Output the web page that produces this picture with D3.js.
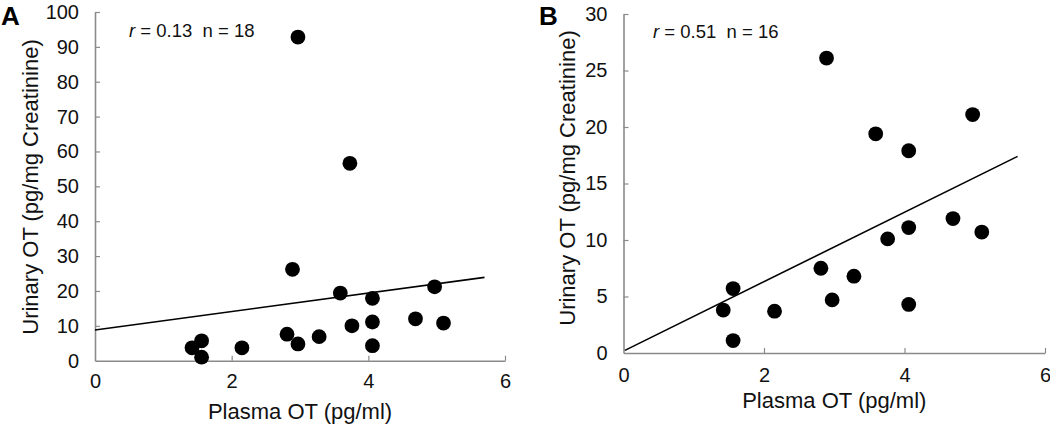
<!DOCTYPE html>
<html>
<head>
<meta charset="utf-8">
<script src="https://cdn.jsdelivr.net/npm/d3@7"></script>
<style>
  html, body { margin: 0; padding: 0; background: #fff; }
  svg { display: block; font-family: "Liberation Sans", Arial, sans-serif; }
</style>
</head>
<body>
<svg id="chart" width="1050" height="425"></svg>
<script>
// ---- Data ----
const plasmaA  = [1.42, 1.56, 1.56, 2.15, 2.81, 2.89, 2.97, 2.97, 3.28, 3.59, 3.73, 3.76, 4.06, 4.06, 4.06, 4.69, 4.97, 5.10];
const urinaryA = [3.7, 5.7, 1.0, 3.7, 7.6, 26.2, 4.8, 92.8, 6.9, 19.4, 56.6, 10.0, 17.9, 11.1, 4.3, 12.0, 21.2, 10.8];
const plasmaB  = [1.42, 1.56, 1.56, 2.15, 2.81, 2.89, 2.97, 3.28, 3.59, 3.76, 4.06, 4.06, 4.06, 4.69, 4.97, 5.10];
const urinaryB = [3.8, 5.7, 1.1, 3.7, 7.5, 26.1, 4.7, 6.8, 19.4, 10.1, 17.9, 11.1, 4.3, 11.9, 21.1, 10.7];
const fitAx = [0, 5.7],  fitAy = [8.8, 23.9];
const fitBx = [0.02, 5.61], fitBy = [0.23, 17.4];
const xTicks = [0, 2, 4, 6];
const yTicksA = [0, 10, 20, 30, 40, 50, 60, 70, 80, 90, 100];
const yTicksB = [0, 5, 10, 15, 20, 25, 30];
const statsA = { r: "0.13", n: "18" };
const statsB = { r: "0.51", n: "16" };
const xTitle = "Plasma OT (pg/ml)";
const yTitle = "Urinary OT (pg/mg Creatinine)";

const svg = d3.select("#chart");
const AXIS = "#8a8a8a";

function panel(cfg) {
  const x = d3.scaleLinear().domain([0, 6]).range([cfg.x0, cfg.x1]);
  const y = d3.scaleLinear().domain([0, cfg.ymax]).range([cfg.y0, cfg.y1]);
  const g = svg.append("g");

  // x axis
  const xa = g.append("g").attr("transform", `translate(0,${cfg.y0})`)
    .call(d3.axisBottom(x).tickValues(xTicks).tickSizeInner(-5).tickSizeOuter(0).tickPadding(cfg.xPad).tickFormat(d3.format("d")));
  // y axis
  const ya = g.append("g").attr("transform", `translate(${cfg.x0},0)`)
    .call(d3.axisLeft(y).tickValues(cfg.yTicks).tickSizeInner(-5).tickSizeOuter(0).tickPadding(16).tickFormat(d3.format("d")));
  [xa, ya].forEach(a => {
    a.select(".domain").attr("stroke", AXIS).attr("stroke-width", 1.6);
    a.selectAll(".tick line").attr("stroke", AXIS).attr("stroke-width", 1.2);
    a.selectAll(".tick text").attr("fill", "#111").style("font-size", "20px");
  });
  xa.selectAll(".tick").filter(d => d === 0).select("line").remove();
  ya.selectAll(".tick").filter(d => d === 0).select("line").remove();

  // fit line
  g.append("line")
    .attr("x1", x(cfg.fitx[0])).attr("y1", y(cfg.fity[0]))
    .attr("x2", x(cfg.fitx[1])).attr("y2", y(cfg.fity[1]))
    .attr("stroke", "#000").attr("stroke-width", 1.6);

  // points
  g.selectAll("circle.pt").data(cfg.px.map((v, i) => [v, cfg.py[i]]))
    .enter().append("circle").attr("class", "pt")
    .attr("cx", d => x(d[0])).attr("cy", d => y(d[1])).attr("r", 7.4).attr("fill", "#000");

  // annotation
  const t = g.append("text").attr("x", cfg.annX).attr("y", cfg.annY).style("font-size", "18.5px").attr("fill", "#111");
  t.append("tspan").style("font-style", "italic").text("r");
  t.append("tspan").text(` = ${cfg.stats.r}\u00a0\u00a0n = ${cfg.stats.n}`);

  // axis titles
  g.append("text").attr("x", (cfg.x0 + cfg.x1) / 2).attr("y", cfg.xTitleY)
    .attr("text-anchor", "middle").style("font-size", "22px").attr("fill", "#111").text(xTitle);
  g.append("text").attr("transform", `translate(${cfg.yTitleX},${cfg.yTitleC}) rotate(-90)`)
    .attr("text-anchor", "middle").style("font-size", "22px").attr("fill", "#111").text(yTitle);

  // panel letter
  g.append("text").attr("x", cfg.letterX).attr("y", 25).style("font-size", "26px")
    .style("font-weight", "bold").attr("fill", "#000").text(cfg.letter);
}

panel({ x0: 95, x1: 505, y0: 360.7, y1: 12, ymax: 100, yTicks: yTicksA, xPad: 13,
  px: plasmaA, py: urinaryA, fitx: fitAx, fity: fitAy, stats: statsA,
  annX: 129, annY: 37, xTitleY: 419, yTitleX: 38, yTitleC: 187, letter: "A", letterX: 1 });

panel({ x0: 623.5, x1: 1045, y0: 353, y1: 14, ymax: 30, yTicks: yTicksB, xPad: 15,
  px: plasmaB, py: urinaryB, fitx: fitBx, fity: fitBy, stats: statsB,
  annX: 653, annY: 38, xTitleY: 408, yTitleX: 575, yTitleC: 178, letter: "B", letterX: 539 });
</script>
</body>
</html>
